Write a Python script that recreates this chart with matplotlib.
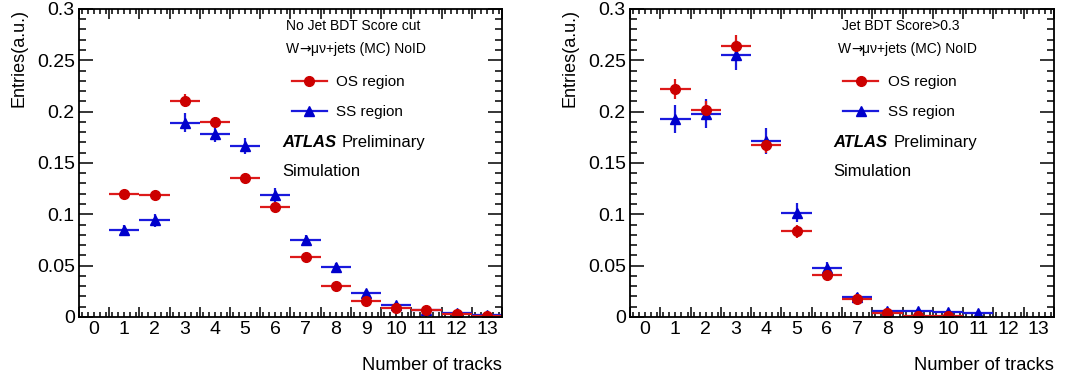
import matplotlib.pyplot as plt
from matplotlib.lines import Line2D
from matplotlib.ticker import MultipleLocator, FixedLocator, FuncFormatter

plt.rcParams['font.family'] = ['Liberation Sans', 'DejaVu Sans']

# No Jet BDT score cut
tracks_a = [1, 2, 3, 4, 5, 6, 7, 8, 9, 10, 11, 12, 13]
os_a = [0.1195, 0.119, 0.2105, 0.190, 0.135, 0.1068, 0.058, 0.0302, 0.0156, 0.0085, 0.0065, 0.0033, 0.0013]
os_a_err = [0.004, 0.004, 0.0063, 0.005, 0.005, 0.004, 0.003, 0.0025, 0.002, 0.0015, 0.0012, 0.001, 0.0008]
ss_a = [0.0847, 0.094, 0.1893, 0.178, 0.1666, 0.119, 0.075, 0.049, 0.023, 0.0117, 0.0071, 0.0042, 0.0019]
ss_a_err = [0.005, 0.006, 0.0093, 0.008, 0.0076, 0.007, 0.005, 0.004, 0.003, 0.002, 0.0018, 0.0012, 0.001]

# Jet BDT score > 0.3
tracks_os_b = [1, 2, 3, 4, 5, 6, 7, 8, 9, 10]
os_b = [0.222, 0.2019, 0.2643, 0.1675, 0.0834, 0.0412, 0.0172, 0.0042, 0.0013, 0.0013]
os_b_err = [0.0097, 0.008, 0.0105, 0.008, 0.006, 0.004, 0.003, 0.002, 0.0012, 0.0012]
tracks_ss_b = [1, 2, 3, 4, 5, 6, 7, 8, 9, 10, 11]
ss_b = [0.1929, 0.198, 0.2552, 0.1714, 0.1016, 0.0474, 0.0198, 0.0062, 0.006, 0.0046, 0.0036]
ss_b_err = [0.0138, 0.0138, 0.015, 0.013, 0.0095, 0.006, 0.004, 0.002, 0.002, 0.0015, 0.0012]

bin_labels = [str(i) for i in range(14)]

red = '#cc0000'
red_line = '#dd1a1a'
blue = '#0000cc'
blue_line = '#1a1add'


def fmt_y(v, pos):
    return '0' if v == 0 else ('%g' % round(v, 3))


def plot_panel(ax, title, title_x, tr_os, os, os_err, tr_ss, ss, ss_err):
    ax.errorbar(tr_ss, ss, xerr=0.5, yerr=ss_err, fmt='^', color=blue_line,
                mfc=blue, mec=blue, ms=7, elinewidth=1.6, capsize=0)
    ax.errorbar(tr_os, os, xerr=0.5, yerr=os_err, fmt='o', color=red_line,
                mfc=red, mec=red, ms=7, elinewidth=1.6, capsize=0)
    ax.set_xlim(-0.5, 13.5)
    ax.set_ylim(0, 0.3)

    # ROOT-like ticks: bin edges as major ticks, labels at bin centres
    ax.xaxis.set_major_locator(FixedLocator([i + 0.5 for i in range(-1, 14)]))
    ax.xaxis.set_minor_locator(MultipleLocator(0.2))
    ax.set_xticklabels([])
    for i, lab in enumerate(bin_labels):
        ax.text(i, -0.012, lab, ha='center', va='top', fontsize=14,
                transform=ax.get_xaxis_transform())
    ax.yaxis.set_major_locator(MultipleLocator(0.05))
    ax.yaxis.set_minor_locator(MultipleLocator(0.01))
    ax.yaxis.set_major_formatter(FuncFormatter(fmt_y))
    ax.tick_params(which='both', direction='in', top=True, right=True, width=1.1)
    ax.tick_params(axis='y', which='major', length=10, labelsize=14, pad=3)
    ax.tick_params(axis='y', which='minor', length=5)
    ax.tick_params(axis='x', which='major', length=7)
    ax.tick_params(axis='x', which='minor', length=3.5)
    for s in ax.spines.values():
        s.set_linewidth(1.3)

    ax.set_ylabel('Entries(a.u.)', fontsize=13, loc='top', labelpad=7)
    ax.set_xlabel('Number of tracks', fontsize=13.2, loc='right', labelpad=25)

    ax.text(title_x, 0.945, title, transform=ax.transAxes, fontsize=10, va='center')
    w = ax.text(0.49, 0.870, 'W', transform=ax.transAxes, fontsize=10, va='center')
    arrow = ax.annotate('\u2192', xy=(1, 0.5), xycoords=w, xytext=(0, 0),
                        textcoords='offset points', fontsize=10, va='center',
                        family='DejaVu Sans')
    ax.annotate('\u03bc\u03bd+jets (MC) NoID', xy=(1, 0.5), xycoords=arrow,
                xytext=(0, 0), textcoords='offset points', fontsize=10, va='center')
    atlas = ax.text(0.48, 0.568, 'ATLAS', transform=ax.transAxes, fontsize=12,
                    fontweight='bold', style='italic', va='center')
    ax.annotate('Preliminary', xy=(1, 0.5), xycoords=atlas, xytext=(4, 0),
                textcoords='offset points', fontsize=12, va='center')
    ax.text(0.48, 0.471, 'Simulation', transform=ax.transAxes, fontsize=12, va='center')

    handles = [Line2D([], [], color=red_line, marker='o', mfc=red, mec=red, ms=7, lw=1.6),
               Line2D([], [], color=blue_line, marker='^', mfc=blue, mec=blue, ms=7, lw=1.6)]
    ax.legend(handles, ['OS region', 'SS region'], loc='upper left',
              bbox_to_anchor=(0.503, 0.785), frameon=False, fontsize=11,
              handlelength=2.3, handletextpad=0.6, labelspacing=1.05,
              borderpad=0, borderaxespad=0)


fig = plt.figure(figsize=(10.67, 3.78), dpi=100)
ax1 = fig.add_axes([0.074, 0.1614, 0.3965, 0.815])
ax2 = fig.add_axes([0.5904, 0.1614, 0.3974, 0.815])

plot_panel(ax1, 'No Jet BDT Score cut', 0.49, tracks_a, os_a, os_a_err,
           tracks_a, ss_a, ss_a_err)
plot_panel(ax2, 'Jet BDT Score>0.3', 0.50, tracks_os_b, os_b, os_b_err,
           tracks_ss_b, ss_b, ss_b_err)

fig.savefig('out.png', dpi=100)
